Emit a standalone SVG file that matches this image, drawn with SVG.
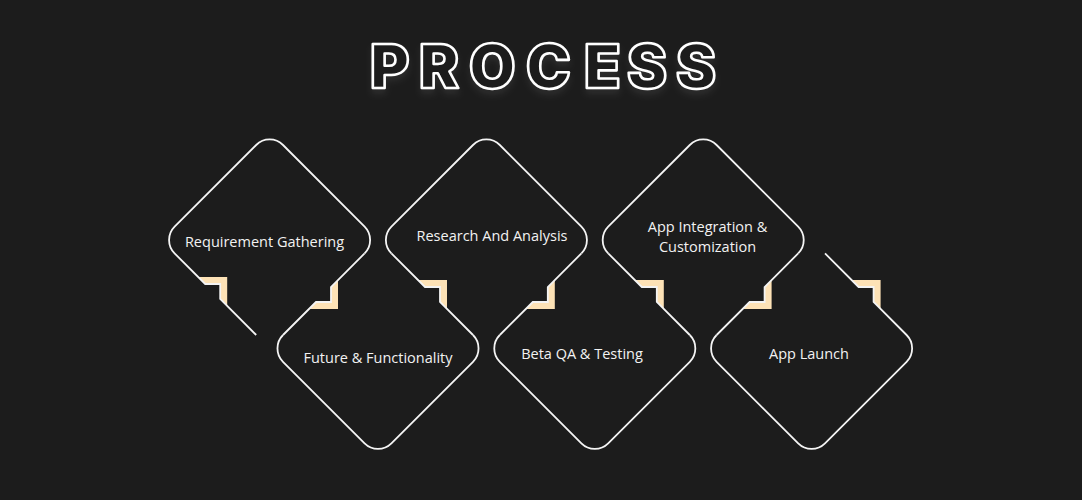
<svg xmlns="http://www.w3.org/2000/svg" width="1082" height="500" viewBox="0 0 1082 500">
  <defs>
    <style>
      .edge { fill: none; stroke: #f4f4f4; stroke-width: 1.8; stroke-linejoin: miter; stroke-linecap: butt; }
      .accent { fill: #fde2b6; stroke: none; }
      .label { fill: #f2f2f2; font-family: "Open Sans", "Noto Sans", sans-serif; font-size: 14.5px; font-weight: 500; text-anchor: middle; }
      .title { fill: #1c1c1c; stroke: #ffffff; stroke-width: 2.6; stroke-linejoin: round; font-family: "Inter", "Lato", sans-serif; font-size: 60px; font-weight: 900; }
    </style>
    <filter id="glow" x="-10%" y="-30%" width="120%" height="170%">
      <feDropShadow dx="0" dy="5" stdDeviation="3" flood-color="#ffffff" flood-opacity="0.07"/>
    </filter>
  </defs>

  <rect x="0" y="0" width="1082" height="500" fill="#1c1c1c"/>

  <text class="title" filter="url(#glow)" x="370 419 469 526 584 627 676" y="88">PROCESS</text>

  <g id="accents">
    <polygon class="accent" points="205.2,284 198.2,277 227.2,277 227.2,306 220.2,299 220.2,284"/>
    <polygon class="accent" points="331,287 338,280 338,309 309,309 316,302 331,302"/>
    <polygon class="accent" points="425,287 418,280 447,280 447,309 440,302 440,287"/>
    <polygon class="accent" points="547.8,287 554.8,280 554.8,309 525.8,309 532.8,302 547.8,302"/>
    <polygon class="accent" points="641.8,287 634.8,280 663.8,280 663.8,309 656.8,302 656.8,287"/>
    <polygon class="accent" points="764.6,287 771.6,280 771.6,309 742.6,309 749.6,302 764.6,302"/>
    <polygon class="accent" points="858.6,287 851.6,280 880.6,280 880.6,309 873.6,302 873.6,287"/>
  </g>

  <g id="connectors">
    <path class="edge" d="M364.6 253.4 L331 287 L331 302 L316 302 L283 335"/>
    <path class="edge" d="M473 335 L440 302 L440 287 L425 287 L391.4 253.4"/>
    <path class="edge" d="M581.4 253.4 L547.8 287 L547.8 302 L532.8 302 L499.8 335"/>
    <path class="edge" d="M689.8 335 L656.8 302 L656.8 287 L641.8 287 L608.2 253.4"/>
    <path class="edge" d="M798.2 253.4 L764.6 287 L764.6 302 L749.6 302 L716.6 335"/>
  </g>

  <g id="node-1">
    <path class="edge" d="M256.2 335 L220.2 299 L220.2 284 L205.2 284 L174.6 253.4 A19 19 0 0 1 174.6 226.6 L256.2 145 A19 19 0 0 1 283 145 L364.6 226.6 A19 19 0 0 1 364.6 253.4"/>
    <text class="label" x="264.5" y="246.5">Requirement Gathering</text>
  </g>

  <g id="node-2">
    <path class="edge" d="M283 335 A19 19 0 0 0 283 361.8 L364.6 443.4 A19 19 0 0 0 391.4 443.4 L473 361.8 A19 19 0 0 0 473 335"/>
    <text class="label" x="378" y="363">Future &amp; Functionality</text>
  </g>

  <g id="node-3">
    <path class="edge" d="M391.4 253.4 A19 19 0 0 1 391.4 226.6 L473 145 A19 19 0 0 1 499.8 145 L581.4 226.6 A19 19 0 0 1 581.4 253.4"/>
    <text class="label" x="492" y="241">Research And Analysis</text>
  </g>

  <g id="node-4">
    <path class="edge" d="M499.8 335 A19 19 0 0 0 499.8 361.8 L581.4 443.4 A19 19 0 0 0 608.2 443.4 L689.8 361.8 A19 19 0 0 0 689.8 335"/>
    <text class="label" x="582" y="359">Beta QA &amp; Testing</text>
  </g>

  <g id="node-5">
    <path class="edge" d="M608.2 253.4 A19 19 0 0 1 608.2 226.6 L689.8 145 A19 19 0 0 1 716.6 145 L798.2 226.6 A19 19 0 0 1 798.2 253.4"/>
    <text class="label" x="707.5" y="232">App Integration &amp;</text>
    <text class="label" x="707.5" y="252">Customization</text>
  </g>

  <g id="node-6">
    <path class="edge" d="M716.6 335 A19 19 0 0 0 716.6 361.8 L798.2 443.4 A19 19 0 0 0 825 443.4 L906.6 361.8 A19 19 0 0 0 906.6 335 L873.6 302 L873.6 287 L858.6 287 L825 253.4"/>
    <text class="label" x="809" y="359">App Launch</text>
  </g>
</svg>
